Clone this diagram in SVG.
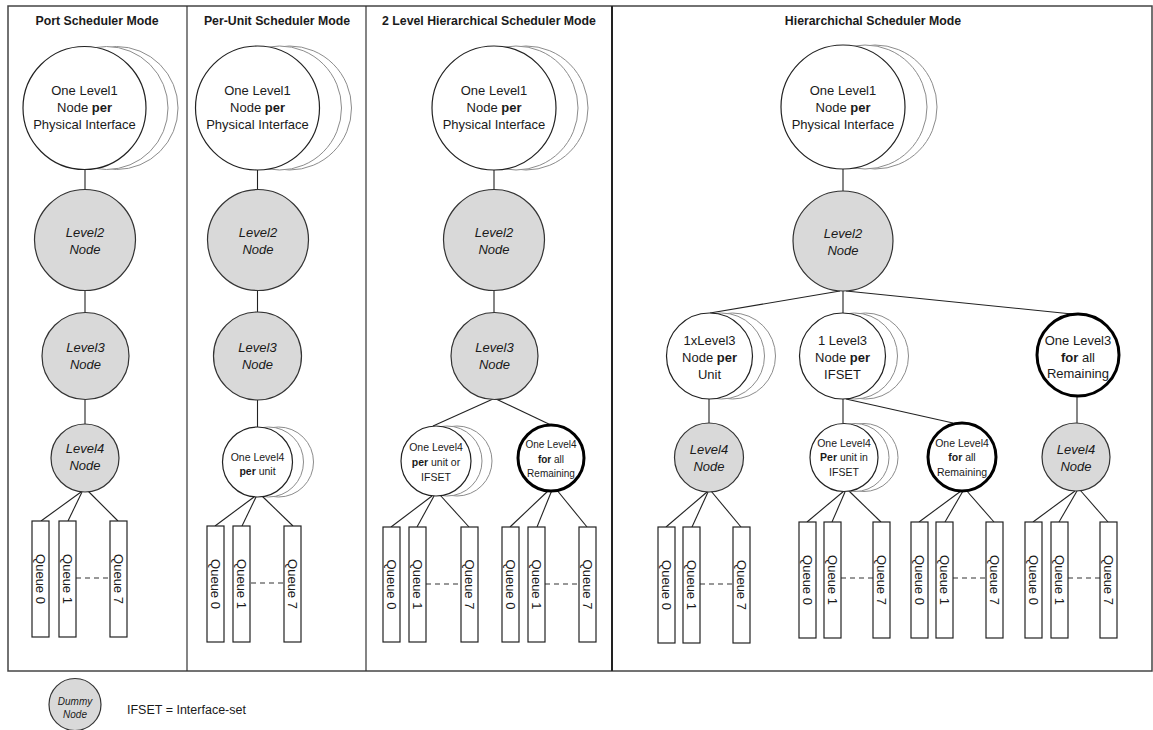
<svg xmlns="http://www.w3.org/2000/svg" width="1153" height="730" viewBox="0 0 1153 730">
<style>
.frame{fill:none;stroke:#444;stroke-width:1.5}
.div{stroke:#333;stroke-width:1.2}
.div2{stroke:#222;stroke-width:2}
.main{fill:#fff;stroke:#222;stroke-width:1.2}
.shadow{fill:#fff;stroke:#8c8c8c;stroke-width:1}
.dummy{fill:#d9d9d9;stroke:#333;stroke-width:1.2}
.bold{fill:#fff;stroke:#000;stroke-width:3}
.q{fill:#fff;stroke:#222;stroke-width:1.2}
.link{stroke:#222;stroke-width:1.1;fill:none}
.dash{stroke:#333;stroke-width:1.1;stroke-dasharray:5 4}
text{font-family:'Liberation Sans',Arial,sans-serif;fill:#1a1a1a;text-anchor:middle}
.t13{font-size:13px}
.ti{font-size:13px;font-style:italic}
.ts{font-size:10.5px}
.tb{font-size:10px}
.title{font-size:12.3px;font-weight:bold}
.qt{font-size:13px}
</style>
<rect class="frame" x="8" y="6" width="1144" height="665"/>
<line class="div" x1="187" y1="6" x2="187" y2="671"/>
<line class="div" x1="366" y1="6" x2="366" y2="671"/>
<line class="div2" x1="612" y1="6" x2="612" y2="671"/>
<g id="titles">
<text class="title" x="97" y="25">Port Scheduler Mode</text>
<text class="title" x="277" y="25">Per-Unit Scheduler Mode</text>
<text class="title" x="489" y="25">2 Level Hierarchical Scheduler Mode</text>
<text class="title" x="873" y="25">Hierarchichal Scheduler Mode</text>
</g>
<g id="connectors">
<line class="link" x1="85" y1="170" x2="85" y2="190"/>
<line class="link" x1="85" y1="291" x2="85" y2="313"/>
<line class="link" x1="85" y1="399" x2="85" y2="424"/>
<line class="link" x1="81" y1="492" x2="41" y2="521"/>
<line class="link" x1="82" y1="492" x2="68" y2="521"/>
<line class="link" x1="88" y1="491" x2="118" y2="521"/>
<line class="dash" x1="76" y1="578" x2="110" y2="578"/>
<line class="link" x1="257.5" y1="170" x2="257.5" y2="190"/>
<line class="link" x1="257.5" y1="291" x2="257.5" y2="312"/>
<line class="link" x1="257.5" y1="400" x2="257.5" y2="427"/>
<line class="link" x1="254" y1="497" x2="215" y2="526"/>
<line class="link" x1="256" y1="497" x2="242" y2="526"/>
<line class="link" x1="262" y1="496" x2="293" y2="526"/>
<line class="dash" x1="251" y1="583" x2="284" y2="583"/>
<line class="link" x1="494" y1="170" x2="494" y2="190"/>
<line class="link" x1="494" y1="291" x2="494" y2="313"/>
<line class="link" x1="493" y1="399" x2="433" y2="426"/>
<line class="link" x1="496" y1="399" x2="553" y2="426"/>
<line class="link" x1="432" y1="496" x2="391" y2="527"/>
<line class="link" x1="434" y1="496" x2="417" y2="527"/>
<line class="link" x1="440" y1="495" x2="469" y2="527"/>
<line class="dash" x1="426" y1="584" x2="461" y2="584"/>
<line class="link" x1="549" y1="490" x2="510" y2="527"/>
<line class="link" x1="552" y1="490" x2="537" y2="527"/>
<line class="link" x1="556" y1="489" x2="587" y2="527"/>
<line class="dash" x1="545" y1="584" x2="579" y2="584"/>
<line class="link" x1="843" y1="169" x2="843" y2="191"/>
<line class="link" x1="840" y1="291" x2="710" y2="313"/>
<line class="link" x1="843" y1="291" x2="843" y2="313"/>
<line class="link" x1="846" y1="291" x2="1072" y2="314"/>
<line class="link" x1="709" y1="399" x2="709" y2="423"/>
<line class="link" x1="843" y1="399" x2="843" y2="423"/>
<line class="link" x1="846" y1="399" x2="953" y2="423"/>
<line class="link" x1="1077" y1="397" x2="1077" y2="423"/>
<line class="link" x1="707" y1="492" x2="666" y2="527"/>
<line class="link" x1="708" y1="492" x2="692" y2="527"/>
<line class="link" x1="711" y1="491" x2="741" y2="527"/>
<line class="dash" x1="700" y1="584" x2="733" y2="584"/>
<line class="link" x1="844" y1="491" x2="807" y2="522"/>
<line class="link" x1="845" y1="492" x2="832" y2="522"/>
<line class="link" x1="849" y1="491" x2="881" y2="522"/>
<line class="dash" x1="841" y1="578" x2="873" y2="578"/>
<line class="link" x1="961" y1="491" x2="919" y2="522"/>
<line class="link" x1="963" y1="491" x2="945" y2="522"/>
<line class="link" x1="966" y1="490" x2="994" y2="522"/>
<line class="dash" x1="953" y1="578" x2="986" y2="578"/>
<line class="link" x1="1075" y1="491" x2="1033" y2="522"/>
<line class="link" x1="1077" y1="491" x2="1059" y2="522"/>
<line class="link" x1="1080" y1="490" x2="1108" y2="522"/>
<line class="dash" x1="1068" y1="578" x2="1100" y2="578"/>
</g>
<g id="p1-l1">
<circle class="shadow" cx="116.5" cy="108" r="61.5"/><circle class="shadow" cx="106.5" cy="108" r="61.5"/><circle class="main" cx="84.5" cy="108" r="61.5"/>
<text class="t13" x="84.5" y="94.5">One Level1</text><text class="t13" x="84.5" y="111.5">Node <tspan font-weight="bold">per</tspan></text><text class="t13" x="84.5" y="128.5">Physical Interface</text>
</g>
<g id="p1-l2"><circle class="dummy" cx="85" cy="240" r="50.5"/><text class="ti" x="85" y="236.5">Level2</text><text class="ti" x="85" y="253.5">Node</text></g>
<g id="p1-l3"><circle class="dummy" cx="85.5" cy="356" r="43.5"/><text class="ti" x="85.5" y="351.5">Level3</text><text class="ti" x="85.5" y="368.5">Node</text></g>
<g id="p1-l4"><circle class="dummy" cx="85" cy="458" r="34"/><text class="ti" x="85" y="453">Level4</text><text class="ti" x="85" y="470">Node</text></g>
<g id="p1-queues">
<rect class="q" x="32" y="521" width="17" height="116"/><text class="qt" transform="translate(40.5,579) rotate(90)" y="4.5">Queue 0</text>
<rect class="q" x="59" y="521" width="17" height="116"/><text class="qt" transform="translate(67.5,579) rotate(90)" y="4.5">Queue 1</text>
<rect class="q" x="110" y="521" width="17" height="116"/><text class="qt" transform="translate(118.5,579) rotate(90)" y="4.5">Queue 7</text>
</g>
<g id="p2-l1">
<circle class="shadow" cx="289.5" cy="108" r="62"/><circle class="shadow" cx="279.5" cy="108" r="62"/><circle class="main" cx="257.5" cy="108" r="62"/>
<text class="t13" x="257.5" y="94.5">One Level1</text><text class="t13" x="257.5" y="111.5">Node <tspan font-weight="bold">per</tspan></text><text class="t13" x="257.5" y="128.5">Physical Interface</text>
</g>
<g id="p2-l2"><circle class="dummy" cx="258" cy="240" r="50.5"/><text class="ti" x="258" y="236.5">Level2</text><text class="ti" x="258" y="253.5">Node</text></g>
<g id="p2-l3"><circle class="dummy" cx="257.5" cy="356" r="44"/><text class="ti" x="257.5" y="351.5">Level3</text><text class="ti" x="257.5" y="368.5">Node</text></g>
<g id="p2-l4">
<circle class="shadow" cx="278.5" cy="462" r="35"/><circle class="shadow" cx="268.5" cy="462" r="35"/><circle class="main" cx="257.5" cy="462" r="35"/>
<text class="ts" x="257.5" y="460.7">One Level4</text><text class="ts" x="257.5" y="474.7"><tspan font-weight="bold">per</tspan> unit</text>
</g>
<g id="p2-queues">
<rect class="q" x="207" y="526" width="17" height="116"/><text class="qt" transform="translate(215.5,584) rotate(90)" y="4.5">Queue 0</text>
<rect class="q" x="233" y="526" width="17" height="116"/><text class="qt" transform="translate(241.5,584) rotate(90)" y="4.5">Queue 1</text>
<rect class="q" x="284" y="526" width="17" height="116"/><text class="qt" transform="translate(292.5,584) rotate(90)" y="4.5">Queue 7</text>
</g>
<g id="p3-l1">
<circle class="shadow" cx="526" cy="108" r="62"/><circle class="shadow" cx="516" cy="108" r="62"/><circle class="main" cx="494" cy="108" r="62"/>
<text class="t13" x="494" y="94.5">One Level1</text><text class="t13" x="494" y="111.5">Node <tspan font-weight="bold">per</tspan></text><text class="t13" x="494" y="128.5">Physical Interface</text>
</g>
<g id="p3-l2"><circle class="dummy" cx="494" cy="240" r="50.5"/><text class="ti" x="494" y="236.5">Level2</text><text class="ti" x="494" y="253.5">Node</text></g>
<g id="p3-l3"><circle class="dummy" cx="494.5" cy="356" r="43.5"/><text class="ti" x="494.5" y="351.5">Level3</text><text class="ti" x="494.5" y="368.5">Node</text></g>
<g id="p3-l4a">
<circle class="shadow" cx="457" cy="461" r="35"/><circle class="shadow" cx="447" cy="461" r="35"/><circle class="main" cx="436" cy="461" r="35"/>
<text class="ts" x="436" y="450.7">One Level4</text><text class="ts" x="436" y="465.7"><tspan font-weight="bold">per</tspan> unit or</text><text class="ts" x="436" y="480.7">IFSET</text>
</g>
<g id="p3-l4b">
<circle class="bold" cx="551" cy="458" r="33"/>
<text class="tb" x="551" y="447.5">One Level4</text><text class="tb" x="551" y="462.5"><tspan font-weight="bold">for</tspan> all</text><text class="tb" x="551" y="477">Remaining</text>
</g>
<g id="p3-queues">
<rect class="q" x="383" y="527" width="17" height="115"/><text class="qt" transform="translate(391.5,584.5) rotate(90)" y="4.5">Queue 0</text>
<rect class="q" x="409" y="527" width="17" height="115"/><text class="qt" transform="translate(417.5,584.5) rotate(90)" y="4.5">Queue 1</text>
<rect class="q" x="461" y="527" width="17" height="115"/><text class="qt" transform="translate(469.5,584.5) rotate(90)" y="4.5">Queue 7</text>
<rect class="q" x="502" y="527" width="17" height="115"/><text class="qt" transform="translate(510.5,584.5) rotate(90)" y="4.5">Queue 0</text>
<rect class="q" x="528" y="527" width="17" height="115"/><text class="qt" transform="translate(536.5,584.5) rotate(90)" y="4.5">Queue 1</text>
<rect class="q" x="579" y="527" width="17" height="115"/><text class="qt" transform="translate(587.5,584.5) rotate(90)" y="4.5">Queue 7</text>
</g>
<g id="p4-l1">
<circle class="shadow" cx="875" cy="107" r="62"/><circle class="shadow" cx="865" cy="107" r="62"/><circle class="main" cx="843" cy="107" r="62"/>
<text class="t13" x="843" y="94.5">One Level1</text><text class="t13" x="843" y="111.5">Node <tspan font-weight="bold">per</tspan></text><text class="t13" x="843" y="128.5">Physical Interface</text>
</g>
<g id="p4-l2"><circle class="dummy" cx="843" cy="241" r="50"/><text class="ti" x="843" y="237.5">Level2</text><text class="ti" x="843" y="254.5">Node</text></g>
<g id="p4-l3a">
<circle class="shadow" cx="732.5" cy="356" r="43"/><circle class="shadow" cx="721.5" cy="356" r="43"/><circle class="main" cx="709.5" cy="356" r="43"/>
<text class="t13" x="709.5" y="344.5">1xLevel3</text><text class="t13" x="709.5" y="361.5">Node <tspan font-weight="bold">per</tspan></text><text class="t13" x="709.5" y="378.5">Unit</text>
</g>
<g id="p4-l3b">
<circle class="shadow" cx="865.5" cy="356" r="43"/><circle class="shadow" cx="854.5" cy="356" r="43"/><circle class="main" cx="842.5" cy="356" r="43"/>
<text class="t13" x="842.5" y="344.5">1 Level3</text><text class="t13" x="842.5" y="361.5">Node <tspan font-weight="bold">per</tspan></text><text class="t13" x="842.5" y="378.5">IFSET</text>
</g>
<g id="p4-l3c">
<circle class="bold" cx="1078" cy="355" r="41"/>
<text class="t13" x="1078" y="344.5">One Level3</text><text class="t13" x="1078" y="361.5"><tspan font-weight="bold">for</tspan> all</text><text class="t13" x="1078" y="378">Remaining</text>
</g>
<g id="p4-l4a"><circle class="dummy" cx="709" cy="457.5" r="34.5"/><text class="ti" x="709" y="453.5">Level4</text><text class="ti" x="709" y="470.5">Node</text></g>
<g id="p4-l4b">
<circle class="shadow" cx="864" cy="457.5" r="34"/><circle class="shadow" cx="855" cy="457.5" r="34"/><circle class="main" cx="844" cy="457.5" r="34"/>
<text class="ts" x="844" y="446.7">One Level4</text><text class="ts" x="844" y="461.2"><tspan font-weight="bold">Per</tspan> unit in</text><text class="ts" x="844" y="475.7">IFSET</text>
</g>
<g id="p4-l4c">
<circle class="bold" cx="962" cy="457" r="34"/>
<text class="ts" x="962" y="446.7">One Level4</text><text class="ts" x="962" y="461.2"><tspan font-weight="bold">for</tspan> all</text><text class="ts" x="962" y="475.7">Remaining</text>
</g>
<g id="p4-l4d"><circle class="dummy" cx="1076" cy="457" r="34"/><text class="ti" x="1076" y="453.5">Level4</text><text class="ti" x="1076" y="470.5">Node</text></g>
<g id="p4-queues">
<rect class="q" x="658" y="527" width="17" height="116"/><text class="qt" transform="translate(666.5,585) rotate(90)" y="4.5">Queue 0</text>
<rect class="q" x="683" y="527" width="17" height="116"/><text class="qt" transform="translate(691.5,585) rotate(90)" y="4.5">Queue 1</text>
<rect class="q" x="733" y="527" width="17" height="116"/><text class="qt" transform="translate(741.5,585) rotate(90)" y="4.5">Queue 7</text>
<rect class="q" x="799" y="522" width="17" height="116"/><text class="qt" transform="translate(807.5,580) rotate(90)" y="4.5">Queue 0</text>
<rect class="q" x="824" y="522" width="17" height="116"/><text class="qt" transform="translate(832.5,580) rotate(90)" y="4.5">Queue 1</text>
<rect class="q" x="873" y="522" width="17" height="116"/><text class="qt" transform="translate(881.5,580) rotate(90)" y="4.5">Queue 7</text>
<rect class="q" x="911" y="522" width="17" height="116"/><text class="qt" transform="translate(919.5,580) rotate(90)" y="4.5">Queue 0</text>
<rect class="q" x="936" y="522" width="17" height="116"/><text class="qt" transform="translate(944.5,580) rotate(90)" y="4.5">Queue 1</text>
<rect class="q" x="986" y="522" width="17" height="116"/><text class="qt" transform="translate(994.5,580) rotate(90)" y="4.5">Queue 7</text>
<rect class="q" x="1025" y="522" width="17" height="116"/><text class="qt" transform="translate(1033.5,580) rotate(90)" y="4.5">Queue 0</text>
<rect class="q" x="1051" y="522" width="17" height="116"/><text class="qt" transform="translate(1059.5,580) rotate(90)" y="4.5">Queue 1</text>
<rect class="q" x="1100" y="522" width="17" height="116"/><text class="qt" transform="translate(1108.5,580) rotate(90)" y="4.5">Queue 7</text>
</g>
<g id="legend">
<circle class="dummy" cx="75" cy="704.5" r="26"/>
<text x="75" y="705" style="font-size:10px;font-style:italic">Dummy</text>
<text x="75" y="718" style="font-size:10px;font-style:italic">Node</text>
<text x="127" y="713.5" style="font-size:12.5px;text-anchor:start">IFSET = Interface-set</text>
</g>
</svg>
